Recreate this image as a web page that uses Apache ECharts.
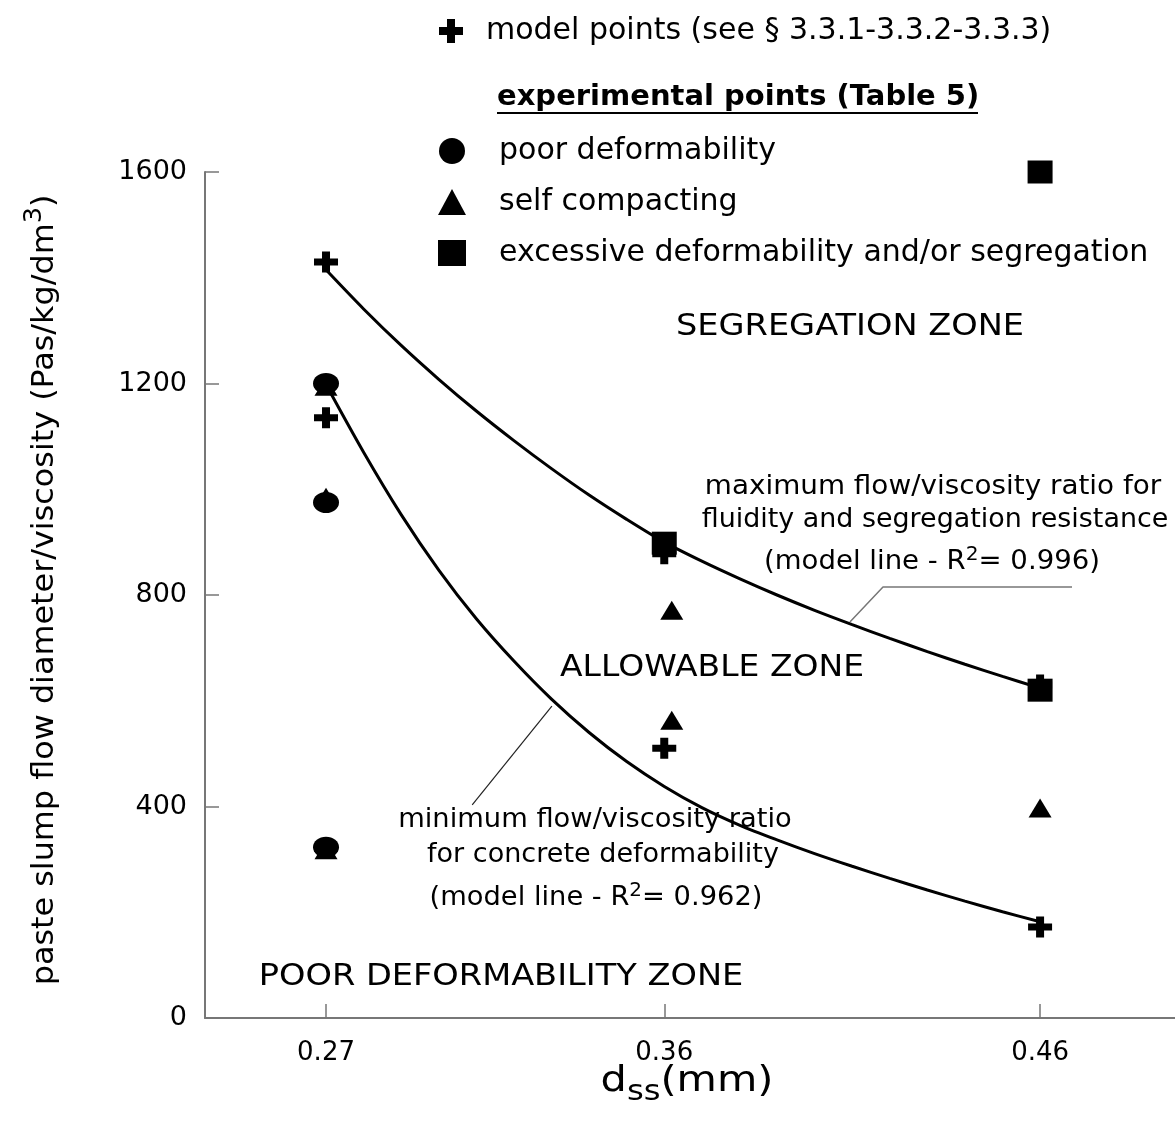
<!DOCTYPE html>
<html><head><meta charset="utf-8">
<script src="https://cdn.jsdelivr.net/npm/echarts@6/dist/echarts.min.js"></script>
<style>html,body{margin:0;padding:0;background:#fff}#c{width:1175px;height:1123px}</style>
</head><body><div id="c"></div>
<script>
// ---- data ----
const xTicks = [0.27, 0.36, 0.46];
const yTicks = [0, 400, 800, 1200, 1600];
const modelPoints = [[0.27,1430],[0.27,1135],[0.36,878],[0.36,510],[0.46,630],[0.46,172]];
const poorPoints = [[0.27,1200],[0.27,975],[0.27,323]];
const scPoints = [[0.27,1195],[0.27,985],[0.27,318],[0.362,771],[0.362,563],[0.46,397]];
const excessPoints = [[0.36,898],[0.46,620],[0.46,1600]];
// model lines, every 0.01 mm
const curveX = [0.27,0.28,0.29,0.30,0.31,0.32,0.33,0.34,0.35,0.36,0.37,0.38,0.39,0.40,0.41,0.42,0.43,0.44,0.45,0.46];
const maxCurveY = [1415,1341,1272,1208,1148,1092,1039,989,943,900,864,831,800,771,744,718,693,669,646,624];
const minCurveY = [1198,1070,952,847,755,675,603,540,485,438,398,365,337,311,287,264,242,221,201,182];
const maxLeader = [[0.4685,815],[0.4182,815],[0.4094,749]];
const minLeader = [[0.3301,590],[0.3089,403]];

const FONT = "'Comic Sans MS','DejaVu Sans',sans-serif";
const plusPath = 'path://M8,0H16V8H24V16H16V24H8V16H0V8H8Z';

const chart = echarts.init(document.getElementById('c'), null, {renderer:'canvas'});
function txt(x, y, text, size, sx, extra) {
  return {type:'text', x:x, y:y, scaleX:sx||1, style:Object.assign({text:text, fontSize:size, fontFamily:FONT, fill:'#000', align:'center', verticalAlign:'middle',
    rich:{sup:{fontSize:Math.round(size*0.72), fontFamily:FONT, padding:[0,0,Math.round(size*0.55),0]}, n:{fontSize:size, fontFamily:FONT}}}, extra||{})};
}
const option = {
  animation:false,
  backgroundColor:'#fff',
  grid:{left:205, right:0, top:172, bottom:105},
  xAxis:{type:'value', min:0.2378, max:0.4959,
    axisLine:{lineStyle:{color:'#777', width:2}},
    axisTick:{inside:true, length:14, customValues:xTicks, lineStyle:{color:'#777', width:1.5}},
    axisLabel:{customValues:xTicks, formatter:v=>v.toFixed(2), margin:22, fontSize:26, color:'#000', fontFamily:'DejaVu Sans'},
    splitLine:{show:false}},
  yAxis:{type:'value', min:0, max:1600, interval:400,
    axisLine:{show:true, lineStyle:{color:'#777', width:2}},
    axisTick:{show:true, inside:true, length:14, lineStyle:{color:'#777', width:1.5}},
    axisLabel:{margin:18, fontSize:27, color:'#000', fontFamily:'DejaVu Sans', formatter:v=>String(v)},
    splitLine:{show:false}},
  legend:[
    {left:434, top:11, itemWidth:24, itemHeight:24, itemGap:10,
     textStyle:{fontSize:30, fontFamily:FONT, color:'#000', padding:[0,0,0,18]},
     data:[{name:'model points (see § 3.3.1-3.3.2-3.3.3)', icon:plusPath}]},
    {left:433, top:131, orient:'vertical', itemWidth:28, itemHeight:26, itemGap:21,
     textStyle:{fontSize:30, fontFamily:FONT, color:'#000', padding:[0,0,0,28]},
     data:[{name:'poor deformability', icon:'circle'},{name:'self compacting', icon:'triangle'},{name:'excessive deformability and/or segregation', icon:'rect'}]}
  ],
  series:[
    {type:'line', data:curveX.map((x,i)=>[x,maxCurveY[i]]), showSymbol:false, smooth:0.3, lineStyle:{color:'#000', width:3}, z:1, silent:true},
    {type:'line', data:curveX.map((x,i)=>[x,minCurveY[i]]), showSymbol:false, smooth:0.3, lineStyle:{color:'#000', width:3}, z:1, silent:true},
    {type:'line', data:maxLeader, showSymbol:false, lineStyle:{color:'#777', width:1.5}, z:1, silent:true},
    {type:'line', data:minLeader, showSymbol:false, lineStyle:{color:'#222', width:1.2}, z:1, silent:true},
    {name:'model points (see § 3.3.1-3.3.2-3.3.3)', type:'scatter', data:modelPoints, symbol:plusPath, symbolSize:[24,21], itemStyle:{color:'#000', opacity:1}, z:2},
    {name:'self compacting', type:'scatter', data:scPoints, symbol:'triangle', symbolSize:[23,19], itemStyle:{color:'#000', opacity:1}, z:3},
    {name:'poor deformability', type:'scatter', data:poorPoints, symbol:'circle', symbolSize:[26,21], itemStyle:{color:'#000', opacity:1}, z:4},
    {name:'excessive deformability and/or segregation', type:'scatter', data:excessPoints, symbol:'rect', symbolSize:[25,23], itemStyle:{color:'#000', opacity:1}, z:5}
  ],
  graphic:[
    {type:'text', x:497, y:97, style:{text:'experimental points (Table 5)', fontSize:29, fontWeight:'bold', fontFamily:FONT, fill:'#000', align:'left', verticalAlign:'middle'}},
    {type:'line', shape:{x1:497, y1:113, x2:978, y2:113}, style:{stroke:'#000', lineWidth:2}},
    txt(850, 327, 'SEGREGATION ZONE', 30, 1.12),
    txt(933, 487, 'maximum flow/viscosity ratio for', 26, 1.07),
    txt(935, 520, 'fluidity and segregation resistance', 26, 1.035),
    txt(932, 562, '{n|(model line - R}{sup|2}{n|= 0.996)}', 26, 1.06),
    txt(712, 668, 'ALLOWABLE ZONE', 30, 1.1),
    txt(595, 820, 'minimum flow/viscosity ratio', 26, 1.05),
    txt(603, 855, 'for concrete deformability', 26, 1.04),
    txt(596, 898, '{n|(model line - R}{sup|2}{n|= 0.962)}', 26, 1.05),
    txt(501, 977, 'POOR DEFORMABILITY ZONE', 30, 1.12),
    {type:'text', x:45, y:590, rotation:Math.PI/2, scaleX:1.18, style:{text:'{m|paste slump flow diameter/viscosity (Pas/kg/dm}{s|3}{m|)}', align:'center', verticalAlign:'middle', fill:'#000',
      rich:{m:{fontSize:30, fontFamily:'DejaVu Sans Condensed'}, s:{fontSize:24, fontFamily:'DejaVu Sans Condensed', padding:[0,0,20,0]}}}},
    {type:'text', x:687, y:1082, scaleX:1.15, style:{text:'{m|d}{s|ss}{m|(mm)}', align:'center', verticalAlign:'middle', fill:'#000',
      rich:{m:{fontSize:36, fontFamily:FONT}, s:{fontSize:28, fontFamily:FONT, padding:[22,0,0,0]}}}}
  ]
};
chart.setOption(option);
</script></body></html>
